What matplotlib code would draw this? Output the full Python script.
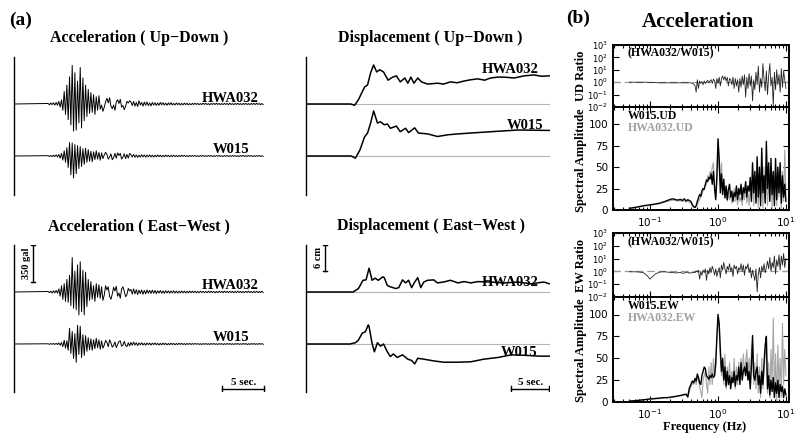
import numpy as np
import matplotlib
matplotlib.use("Agg")
import matplotlib.pyplot as plt
from matplotlib.ticker import LogLocator, NullLocator, NullFormatter

W, H = 798, 438

# ---------------- acceleration traces (gal), sampled from onset to 30 s
ACC_T0, ACC_T1 = 4.1, 29.9
acc_ud_hwa = [5, -8, 10, -6, 12, -10, 15, -12, 25, -30, 40,
              -60, 120, -100, 180, -150, 260, -200, 370, -260, 300, -250, 220, -180, 350,
              -230, 250, -160, 180, -120, 140, -90, 110, -80, 90, -100, 70, -60, 80,
              -50, -10, -70, -30, 20, 55, 10, 60, -20, -45, -10, -60, 20, 40, 5, 45, -30,
              -15, -55, -20, 25, 10, 30,
              20, -15, 25, -20, 15, -25, 30, -10, 15, -20, 18, -12, 20, -15, 10, -18, 15, -10, 12,
              -14, 10, -12, 15, -8, 12, -10, 8, -12, 10, -8, 14, -10, 6, -9, 10, -7, 8, -10, 6,
              -8, 9, -6, 7, -9, 5, -7,
              6, -5, 7, -4, 5, -6, 4, -5, 8, -4, 6, -5, 4, -7, 5, -4, 6, -5, 7, -4, 5, -6, 4, -5,
              6, -4, 5, -6, 8, -5, 4, -6, 5, -4, 7, -5, 4, -6, 5, -4, 6, -5, 4, -6, 5, -4, 6, -5,
              7, -4, 5, -6, 4, -5]
acc_ud_w015 = [3, -4, 5, -6, 8, -5, 10, -8, 15, -20, 25,
               -40, 50, -60, 80, -110, 130, -180, 125, -210, 110, -170, 100, -120, 90,
               -100, 70, -80, 75, -60, 60, -50, 45, -55, 40, -35, 50, -30, 35, -40, 30,
               -25, 10, 35, 15, -30, -10, 20, -35, -15, 25, -20, 30, 5, 25, -30, -10, 20,
               -25, 15, -20, 25,
               12, -10, 15, -12, 10, -14, 8, -10, 12, -8, 10, -12, 9, -7, 11, -9, 8, -10, 7, -8,
               10, -6, 8, -9, 6, -7, 9, -5, 7, -8, 6, -5, 8, -6, 5, -7, 6, -5, 7, -4,
               6, -5, 4, -6, 5, -4,
               4, -3, 5, -4, 3, -5, 4, -3, 5, -4, 3, -4, 5, -3, 4, -5, 3, -4, 4, -3, 5, -4, 3, -5,
               4, -3, 4, -5, 3, -4, 5, -3, 4, -4, 3, -5, 4, -3, 5, -4, 3, -4, 5, -3, 4, -5, 3, -4,
               4, -3, 5, -4, 3, -4]
acc_ew_hwa = [5, -6, 8, -10, 12, -8, 15, -12, 30, -40, 60,
              -70, 80, -90, 120, -100, 160, -130, 330, -155, 200, -170, 260, -220, 290,
              -190, 210, -220, 190, -140, 120,
              -80, 100, -70, 60, -90, 80, -50, 70, -60, 50,
              -80, -30, 60, 20, 50, -40, -70, -20, 45, 10, 55, -40, -10, -60, 30, 50, 5, -45,
              -25, 35, 10,
              25, -20, 30, -18, 22, -25, 18, -15, 20, -22, 15, -18, 20, -12, 16, -14, 18, -12,
              15, -16, 12, -10, 14, -12, 10, -13, 12, -9, 11, -12, 10, -8, 12, -10, 9, -11,
              8, -9, 10, -8, 9, -10, 7, -8, 9, -7,
              8, -6, 7, -8, 6, -7, 8, -5, 6, -7, 5, -6, 8, -6, 7, -5, 6, -8, 5, -6, 7, -5, 6, -7,
              8, -5, 6, -6, 7, -5, 6, -7, 5, -6, 8, -5, 6, -7, 5, -6, 7, -5, 8, -6, 5, -7, 6, -5,
              7, -6, 5, -6, 7, -5]
acc_ew_w015 = [2, -3, 4, -3, 5, -4, 6, -5, 10, -12, 15,
               -25, 35, -40, 30, -60, 150, -90, 120, -140, 100, -175, 180, -100, 170,
               -130, 90, -110, 80, -70, 60,
               -55, 50, -60, 40, -45, 55, -35, 40, -50, 30,
               -40, -10, 35, 15, -25, 40, 10, -30, -15, 20, -35, -5, 25, 30, -20, -10, 25, -15,
               -25, 12, -18,
               15, -12, 18, -10, 12, -15, 10, -8, 12, -10, 8, -12, 10, -7, 9, -10, 8, -6, 10, -8,
               7, -9, 6, -8, 9, -6, 7, -8, 5, -7, 8, -5, 6, -7, 5, -6, 7, -4, 6, -5,
               4, -6, 5, -4, 6, -5,
               4, -3, 5, -3, 4, -4, 3, -5, 4, -3, 5, -4, 3, -4, 4, -3, 5, -4, 3, -5, 4, -3, 4, -5,
               3, -4, 5, -3, 4, -4, 3, -5, 4, -3, 5, -4, 3, -4, 5, -3, 4, -5, 3, -4, 4, -3, 5, -4,
               3, -4, 5, -3, 4, -4]

# ---------------- displacement traces (s, cm)
dud_hwa_t = [0, 5.9, 6.4, 6.9, 7.4, 7.7, 8.1, 8.5, 8.9, 9.3, 9.7, 10.2, 10.8, 11.4, 11.9,
             12.4, 13.0, 13.4, 13.8, 14.2, 14.7, 15.2, 16.0, 17.3, 18.1, 19.0, 19.9, 20.8,
             21.7, 22.6, 23.5, 24.3, 25.2, 26.1, 27.4, 28.7, 30.0, 31.0, 32.0]
dud_hwa_v = [0, 0, -0.3, 1.0, 2.8, 3.9, 4.4, 7.2, 9.0, 7.4, 7.9, 7.4, 5.5, 6.2, 6.5,
             5.1, 6.0, 4.8, 6.2, 4.8, 6.0, 5.1, 4.6, 4.8, 4.6, 5.1, 4.9, 5.3,
             5.6, 5.8, 5.5, 6.0, 6.2, 6.2, 6.0, 6.5, 6.7, 6.4, 6.5]
dud_w015_t = [0, 5.95, 6.5, 7.1, 7.7, 8.1, 8.5, 8.9, 9.4, 9.8, 10.3, 10.7, 11.1, 11.9, 12.4,
              13.1, 13.5, 14.3, 14.8, 16.0, 17.3, 18.7, 20.0, 21.7, 24.3, 27.9, 32.0]
dud_w015_v = [0, 0, -0.5, 1.4, 4.4, 5.3, 7.6, 10.4, 7.6, 7.9, 7.2, 7.4, 6.4, 6.9, 5.6,
              6.4, 5.4, 6.5, 5.3, 5.1, 4.5, 4.9, 5.1, 5.3, 5.6, 6.0, 5.9]
dew_hwa_t = [0, 6.2, 6.9, 7.5, 7.9, 8.3, 8.7, 9.1, 9.5, 10.1, 10.3, 10.7, 11.1, 11.8, 12.2,
             12.7, 13.1, 13.5, 13.9, 14.3, 14.7, 15.1, 15.5, 16.0, 16.8, 17.3, 18.1, 19.0,
             20.0, 20.8, 21.7, 22.6, 24.3, 26.1, 27.9, 29.6, 31.3, 32.0]
dew_hwa_v = [0, 0, 0.8, 2.7, 2.8, 5.5, 2.7, 3.2, 2.7, 3.5, 3.3, 1.5, 1.2, 0.8, 1.0,
             2.8, 2.1, 2.7, 1.0, 2.3, 3.3, 1.0, 2.3, 2.7, 2.8, 2.1, 2.3, 2.7,
             2.1, 2.4, 2.1, 2.4, 2.3, 2.1, 2.3, 1.9, 2.3, 1.9]
dew_w015_t = [0, 5.8, 6.5, 6.9, 7.4, 7.8, 8.2, 8.3, 8.7, 9.0, 9.4, 9.8, 10.2, 10.7, 11.1,
              11.5, 12.0, 12.7, 13.4, 13.9, 14.3, 14.7, 15.5, 16.8, 18.1, 20.0, 21.7, 23.4,
              25.3, 27.0, 28.7, 30.6, 32.0]
dew_w015_v = [0, 0, 0.3, 0.9, 2.5, 2.8, 4.4, 4.0, 0.1, -1.8, 0.3, -0.5, 0, -1.8, -2.9,
              -2.3, -3.1, -2.5, -3.5, -3.8, -4.6, -3.3, -3.5, -3.9, -4.2, -4.2, -4.1, -3.5,
              -3.1, -2.5, -2.6, -2.8, -2.8]

# ---------------- spectra: low band typed frequencies, high band log-spaced grid
f_lo = [0.05, 0.06, 0.07, 0.08, 0.09, 0.10, 0.12, 0.14, 0.16, 0.18, 0.20, 0.22, 0.24,
        0.26, 0.28, 0.30, 0.32, 0.34, 0.36, 0.38, 0.40, 0.42, 0.44]
f_hi = np.geomspace(0.46, 10, 80)

ud_w015_lo = [2, 3, 4, 5, 5.5, 6, 7, 8, 9.5, 11, 12.5, 13, 12, 11.5, 12.5, 11, 13, 10.5,
              12, 11, 10, 6, 4]
ud_hwa_lo = [1.5, 2.5, 3.5, 4.5, 5, 5.5, 6.5, 7.5, 9, 10, 11, 11.5, 11, 10.5, 11, 10, 11,
             9.5, 10, 9, 8, 5, 3]
ud_w015_hi = [3, 5, 10, 14, 18, 16, 22, 25, 24, 30, 35, 33, 38, 36, 42, 30, 45, 25, 12, 40,
              83, 60, 20, 42, 18, 36, 14, 28, 12, 24, 30, 15, 22, 10, 20, 16, 28, 12, 25, 18,
              30, 12, 26, 20, 33, 15, 28, 22, 38, 10, 55, 20, 45, 8, 62, 15, 50, 5, 72, 20,
              40, 8, 80, 25, 55, 10, 60, 18, 45, 5, 60, 12, 50, 20, 55, 8, 40, 15, 30, 10]
ud_hwa_hi = [3, 4, 6, 10, 12, 15, 18, 22, 25, 28, 30, 40, 35, 45, 40, 50, 55, 30, 15, 30,
             70, 50, 30, 55, 25, 35, 15, 25, 10, 20, 12, 18, 8, 15, 25, 10, 18, 6, 22, 10,
             15, 5, 20, 12, 28, 8, 20, 5, 25, 15, 35, 5, 40, 10, 30, 3, 45, 15, 35, 2,
             50, 10, 40, 5, 30, 15, 45, 2, 35, 10, 50, 5, 40, 15, 55, 0, 45, 10, 70, 20]
ew_w015_lo = [1, 1.5, 2, 2.5, 3, 3.5, 4, 4.5, 5, 5, 5.5, 6, 6.5, 7, 7.5, 8, 8.5, 9, 6, 16,
              20, 24, 22]
ew_hwa_lo = [1, 1.5, 2, 2.5, 3, 3, 3.5, 4, 4.5, 5, 5, 5.5, 6, 6.5, 7, 7.5, 8, 8, 5, 12, 17,
             22, 20]
ew_w015_hi = [27, 24, 32, 28, 22, 20, 30, 35, 40, 38, 30, 28, 26, 30, 28, 32, 28, 30, 45, 75,
              100, 90, 60, 35, 50, 25, 40, 18, 35, 20, 30, 15, 28, 22, 35, 18, 30, 25, 40, 20,
              45, 25, 35, 40, 30, 45, 25, 35, 15, 40, 76, 30, 25, 35, 40, 20, 30, 10, 35, 20,
              45, 65, 75, 15, 30, 8, 25, 12, 28, 5, 22, 10, 25, 5, 20, 12, 18, 5, 15, 8]
ew_hwa_hi = [25, 20, 28, 25, 18, 12, 5, 25, 30, 35, 20, 10, 40, 20, 45, 20, 50, 30, 40, 70,
             95, 85, 50, 30, 45, 20, 55, 15, 40, 25, 45, 20, 35, 25, 50, 15, 40, 20, 45, 25,
             50, 30, 55, 35, 45, 60, 30, 50, 25, 60, 70, 20, 45, 15, 55, 10, 40, 5, 50, 15,
             35, 55, 70, 10, 45, 5, 60, 20, 96, 10, 55, 0, 65, 15, 50, 5, 90, 20, 60, 30]

# spectral ratios HWA032/W015, log10 values
ud_ratio_lo = [0, 0, 0, 0, 0, -0.02, -0.03, -0.05, -0.05, -0.05, -0.05, -0.05, -0.05,
               -0.05, -0.05, -0.05, -0.05, -0.05, -0.05, -0.05, -0.05, -0.1, -0.15]
ud_ratio_hi = [-0.3, -0.8, 0.2, -0.5, 0.1, -0.1, 0.05, -0.2, 0.1, -0.1, 0.05, 0.15, -0.05,
               0.1, 0.2, -0.1, 0.25, 0.1, -0.5, 0.3, -0.1, 0.4, -0.3, 0.3, 0.5, 0.2, 0.45,
               0.1, 0.4, -0.3, 0.3, 0.2, -0.2, 0.4, -0.5, 0.3, -0.3, 0.2, -0.8, 0.3, -0.4,
               0.5, -0.2, 0.6, -1.2, 0.4, -0.5, 0.7, -0.3, 0.5, -1.5, 0.2, -0.6, 0.8, -0.2,
               1.3, -0.8, 0.3, -0.4, 1.5, 0.2, -0.7, 0.9, -1.0, 0.5, 1.5, -0.3, 0.4, -1.9,
               0.8, -0.6, 1.0, -0.2, 0.6, -0.8, 1.1, -0.4, 0.9, 0.2, -0.5]
ew_ratio_lo = [-0.03, -0.03, -0.05, -0.1, -0.3, -0.6, -0.2, -0.05, -0.03, -0.05, -0.08,
               -0.1, -0.12, -0.1, -0.08, -0.15, -0.12, -0.1, -0.05, -0.15, -0.1, -0.1, -0.08]
ew_ratio_hi = [-0.1, 0.05, -0.05, 0.1, -0.6, 0.0, -0.3, 0.1, -0.1, 0.2, -0.7, 0.1, -0.2,
               0.3, -0.1, 0.4, 0.1, -0.3, 0.2, -0.4, 0.0, 0.3, -0.5, 0.5, 0.1, 0.7, 0.2,
               -0.2, 0.4, 0.1, 0.6, 0.0, 0.3, -0.4, 0.5, 0.2, 0.4, -0.2, 0.3, 0.1, 0.6, 0.0,
               0.5, -0.3, 0.4, 0.2, 0.6, -0.1, 0.3, -0.5, 0.1, -0.3, -0.7, 0.2, -1.6, -0.2,
               0.3, -0.5, 0.4, 0.0, 0.6, -0.1, 0.3, 0.8, 0.2, 1.1, 0.0, 0.7, 0.3, 1.2, -0.2,
               0.9, 0.4, 1.3, 0.1, 1.2, 0.5, 1.4, 0.3, 1.0]

# ---------------- figure
fig = plt.figure(figsize=(W / 100, H / 100), dpi=100)
SERIF = "Liberation Serif"
GAL = 350 / 36.5      # gal per pixel
CM = 6 / 26           # cm per pixel
ACC_PXS = 250 / 30    # pixels per second
DISP_PXS = 38 / 5


def px_axes(x0, y0, x1, y1):
    return fig.add_axes([x0 / W, 1 - y1 / H, (x1 - x0) / W, (y1 - y0) / H])


def ftext(x, y, s, **kw):
    kw.setdefault("family", SERIF)
    kw.setdefault("weight", "bold")
    kw.setdefault("ha", "center")
    kw.setdefault("va", "center")
    fig.text(x / W, 1 - y / H, s, **kw)


def trace_axes(x0, y0, x1, y1, pxs, base, scale):
    ax = px_axes(x0, y0, x1, y1)
    ax.set_xlim(0, (x1 - x0) / pxs)
    ax.set_ylim((base - y1) * scale, (base - y0) * scale)
    for s in ["top", "right", "bottom"]:
        ax.spines[s].set_visible(False)
    ax.spines["left"].set_linewidth(1.0)
    ax.set_xticks([])
    ax.set_yticks([])
    ax.patch.set_alpha(0)
    return ax


def acc_trace(ax, vals, off):
    t = np.r_[0, np.linspace(ACC_T0, ACC_T1, len(vals))]
    ax.plot(t, np.r_[0, vals] + off, color="k", lw=0.7)


def lbl(ax, x, y, s, size=10.5):
    ax.text(x, y, s, family=SERIF, weight="bold", fontsize=size, ha="center", va="center")


ACC_OFF = -52 * GAL
DISP_OFF = -52 * CM

# acceleration up-down
ax = trace_axes(14, 57, 266, 195, ACC_PXS, 104, GAL)
acc_trace(ax, acc_ud_hwa, 0)
acc_trace(ax, acc_ud_w015, ACC_OFF)
lbl(ax, 26.0, 55, "HWA032")
lbl(ax, 26.0, -441, "W015")

# acceleration east-west
ax = trace_axes(14, 245, 266, 392, ACC_PXS, 292, GAL)
acc_trace(ax, acc_ew_hwa, 0)
acc_trace(ax, acc_ew_w015, ACC_OFF)
lbl(ax, 26.0, 62, "HWA032")
lbl(ax, 26.0, -441, "W015")
top = 47 * GAL
ax.plot([2.28, 2.28], [top, top - 350], color="k", lw=1)
for yy in (top, top - 350):
    ax.plot([2.0, 2.56], [yy, yy], color="k", lw=1)
ax.text(1.45, top - 175, "350 gal", rotation=90, family=SERIF, weight="bold",
        fontsize=7.5, ha="center", va="center")
yb = -97 * GAL
ax.plot([25, 30], [yb, yb], color="k", lw=1)
for xx in (25, 30):
    ax.plot([xx, xx], [yb - 3 * GAL, yb + 3 * GAL], color="k", lw=1)
ax.text(27.5, yb + 2 * GAL, "5 sec.", family=SERIF, weight="bold", fontsize=8,
        ha="center", va="bottom")

# displacement up-down
ax = trace_axes(306, 57, 550, 195, DISP_PXS, 104, CM)
ax.axhline(0, color="#b4b4b4", lw=0.8)
ax.axhline(DISP_OFF, color="#b4b4b4", lw=0.8)
ax.plot(dud_hwa_t, dud_hwa_v, color="k", lw=1.1)
ax.plot(dud_w015_t, np.array(dud_w015_v) + DISP_OFF, color="k", lw=1.1)
lbl(ax, 26.9, 8.0, "HWA032")
lbl(ax, 28.8, -4.85, "W015")

# displacement east-west
ax = trace_axes(306, 245, 550, 392, DISP_PXS, 292, CM)
ax.axhline(0, color="#b4b4b4", lw=0.8)
ax.axhline(DISP_OFF, color="#b4b4b4", lw=0.8)
ax.plot(dew_hwa_t, dew_hwa_v, color="k", lw=1.1)
ax.plot(dew_w015_t, np.array(dew_w015_v) + DISP_OFF, color="k", lw=1.1)
lbl(ax, 26.9, 2.1, "HWA032")
lbl(ax, 28.0, -13.85, "W015")
top = 47 * CM
ax.plot([2.5, 2.5], [top, top - 6], color="k", lw=1)
for yy in (top, top - 6):
    ax.plot([2.25, 2.75], [yy, yy], color="k", lw=1)
ax.text(1.6, top - 3, "6 cm", rotation=90, family=SERIF, weight="bold",
        fontsize=7.5, ha="center", va="center")
yb = -97 * CM
ax.plot([27, 32], [yb, yb], color="k", lw=1)
for xx in (27, 32):
    ax.plot([xx, xx], [yb - 3 * CM, yb + 3 * CM], color="k", lw=1)
ax.text(29.5, yb + 2 * CM, "5 sec.", family=SERIF, weight="bold", fontsize=8,
        ha="center", va="bottom")

# panel titles
ftext(21, 20, "(a)", fontsize=14)
ftext(139, 38, "Acceleration ( Up\u2212Down )", fontsize=11.5)
ftext(430, 38, "Displacement ( Up\u2212Down )", fontsize=11.5)
ftext(139, 226, "Acceleration ( East\u2212West )", fontsize=11.5)
ftext(431, 226, "Displacement ( East\u2212West )", fontsize=11.5)

# ---------------- panel (b)
freqs = np.r_[f_lo, f_hi]
XL = (0.0286, 11.1)


def style_frame(ax):
    ax.set_xscale("log")
    ax.set_xlim(*XL)
    for s in ax.spines.values():
        s.set_linewidth(1.4)
    ax.xaxis.set_major_locator(LogLocator(base=10, numticks=10))
    ax.xaxis.set_minor_locator(LogLocator(base=10, subs=np.arange(2, 10), numticks=20))
    ax.tick_params(which="both", direction="in", top=True, right=True, width=0.8)
    ax.tick_params(which="major", length=4, labelsize=7.5)
    ax.tick_params(which="minor", length=2.2)


def spectra_block(y_top, y_mid, y_bot, r_lo, r_hi, w_lo, w_hi, h_lo, h_hi):
    axr = px_axes(613, y_top, 789, y_mid)
    style_frame(axr)
    axr.set_yscale("log")
    axr.set_ylim(1e-2, 1e3)
    axr.yaxis.set_major_locator(LogLocator(base=10, numticks=10))
    axr.yaxis.set_minor_locator(NullLocator())
    axr.tick_params(axis="y", labelsize=6)
    axr.xaxis.set_major_formatter(NullFormatter())
    axr.axhline(1, color="#9a9a9a", lw=0.9, dashes=(6, 3))
    axr.plot(freqs, 10 ** np.r_[r_lo, r_hi], color="#222222", lw=0.6)

    axs = px_axes(613, y_mid, 789, y_bot)
    style_frame(axs)
    axs.set_ylim(0, 120)
    axs.set_yticks([0, 25, 50, 75, 100])
    axs.plot(freqs, np.r_[h_lo, h_hi], color="#a6a6a6", lw=0.8)
    axs.plot(freqs, np.r_[w_lo, w_hi], color="k", lw=1.0)
    return axr, axs


spectra_block(45, 107, 210, ud_ratio_lo, ud_ratio_hi,
              ud_w015_lo, ud_w015_hi, ud_hwa_lo, ud_hwa_hi)
spectra_block(233, 297, 402, ew_ratio_lo, ew_ratio_hi,
              ew_w015_lo, ew_w015_hi, ew_hwa_lo, ew_hwa_hi)

ftext(578, 18, "(b)", fontsize=14)
ftext(698, 22, "Acceleration", fontsize=15)
ftext(581, 76, "UD Ratio", fontsize=9, rotation=90)
ftext(581, 160, "Spectral Amplitude", fontsize=9, rotation=90)
ftext(581, 265, "EW Ratio", fontsize=9, rotation=90)
ftext(581, 350, "Spectral Amplitude", fontsize=9, rotation=90)
ftext(705, 427, "Frequency (Hz)", fontsize=9)
ftext(628, 53, "(HWA032/W015)", fontsize=8.5, ha="left")
ftext(628, 242, "(HWA032/W015)", fontsize=8.5, ha="left")
ftext(628, 116, "W015.UD", fontsize=8.5, ha="left")
ftext(628, 128, "HWA032.UD", fontsize=8.5, ha="left", color="#a0a0a0")
ftext(628, 306, "W015.EW", fontsize=8.5, ha="left")
ftext(628, 318, "HWA032.EW", fontsize=8.5, ha="left", color="#a0a0a0")

fig.savefig("out.png", dpi=100)
